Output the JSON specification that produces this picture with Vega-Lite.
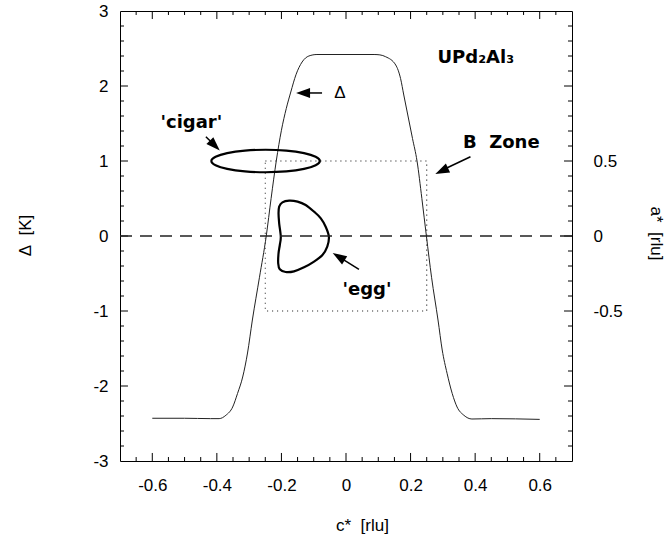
{
  "$schema": "https://vega.github.io/schema/vega-lite/v6.json",
  "width": 452,
  "height": 450,
  "autosize": "none",
  "padding": {"left": 120, "top": 11, "right": 97, "bottom": 83},
  "config": {
    "view": {"stroke": "black", "strokeWidth": 1},
    "axis": {"grid": false, "domain": false, "labelFlush": false, "labelOverlap": false, "labelBound": false,
             "labelFont": "Liberation Sans", "labelFontSize": 17, "labelColor": "black",
             "titleFont": "Liberation Sans", "titleFontSize": 17, "titleFontWeight": "normal", "titleColor": "black"}
  },
  "datasets": {
    "curve": [
      {"x": -0.6, "y": -2.43}, {"x": -0.5, "y": -2.43}, {"x": -0.42, "y": -2.435}, {"x": -0.393, "y": -2.435},
      {"x": -0.372, "y": -2.39}, {"x": -0.351, "y": -2.28}, {"x": -0.336, "y": -2.1}, {"x": -0.32, "y": -1.88},
      {"x": -0.305, "y": -1.56}, {"x": -0.29, "y": -1.12}, {"x": -0.268, "y": -0.55}, {"x": -0.247, "y": 0},
      {"x": -0.232, "y": 0.5}, {"x": -0.216, "y": 1.0}, {"x": -0.2, "y": 1.41}, {"x": -0.185, "y": 1.7},
      {"x": -0.171, "y": 1.92}, {"x": -0.155, "y": 2.15}, {"x": -0.136, "y": 2.32}, {"x": -0.115, "y": 2.4},
      {"x": -0.09, "y": 2.42}, {"x": 0.0, "y": 2.42}, {"x": 0.087, "y": 2.42}, {"x": 0.105, "y": 2.415},
      {"x": 0.123, "y": 2.39}, {"x": 0.154, "y": 2.28}, {"x": 0.169, "y": 2.1}, {"x": 0.179, "y": 1.88},
      {"x": 0.192, "y": 1.6}, {"x": 0.206, "y": 1.3}, {"x": 0.22, "y": 1.0}, {"x": 0.235, "y": 0.5},
      {"x": 0.249, "y": 0}, {"x": 0.265, "y": -0.55}, {"x": 0.285, "y": -1.12}, {"x": 0.298, "y": -1.52},
      {"x": 0.313, "y": -1.83}, {"x": 0.329, "y": -2.1}, {"x": 0.344, "y": -2.28}, {"x": 0.365, "y": -2.39},
      {"x": 0.39, "y": -2.44}, {"x": 0.45, "y": -2.435}, {"x": 0.6, "y": -2.445}
    ],
    "zero": [{"y": 0}],
    "box": [{"x": -0.25, "x2": 0.25, "y": -1, "y2": 1}],
    "xmajor": [{"v": -0.6}, {"v": -0.4}, {"v": -0.2}, {"v": 0}, {"v": 0.2}, {"v": 0.4}, {"v": 0.6}],
    "xminor": [{"v": -0.65}, {"v": -0.55}, {"v": -0.5}, {"v": -0.45}, {"v": -0.35}, {"v": -0.3}, {"v": -0.25}, {"v": -0.15}, {"v": -0.1}, {"v": -0.05},
               {"v": 0.05}, {"v": 0.1}, {"v": 0.15}, {"v": 0.25}, {"v": 0.3}, {"v": 0.35}, {"v": 0.45}, {"v": 0.5}, {"v": 0.55}, {"v": 0.65}],
    "ymajor": [{"v": -2}, {"v": -1}, {"v": 0}, {"v": 1}, {"v": 2}],
    "yminor": [{"v": -2.8}, {"v": -2.6}, {"v": -2.4}, {"v": -2.2}, {"v": -1.8}, {"v": -1.6}, {"v": -1.4}, {"v": -1.2}, {"v": -0.8}, {"v": -0.6}, {"v": -0.4}, {"v": -0.2},
               {"v": 0.2}, {"v": 0.4}, {"v": 0.6}, {"v": 0.8}, {"v": 1.2}, {"v": 1.4}, {"v": 1.6}, {"v": 1.8}, {"v": 2.2}, {"v": 2.4}, {"v": 2.6}, {"v": 2.8}],
    "cigar": [
      {"o": 0, "x": -0.081, "y": 1.0}, {"o": 1, "x": -0.094, "y": 1.057}, {"o": 2, "x": -0.13, "y": 1.106},
      {"o": 3, "x": -0.185, "y": 1.139}, {"o": 4, "x": -0.249, "y": 1.15}, {"o": 5, "x": -0.313, "y": 1.139},
      {"o": 6, "x": -0.368, "y": 1.106}, {"o": 7, "x": -0.404, "y": 1.057}, {"o": 8, "x": -0.417, "y": 1.0},
      {"o": 9, "x": -0.404, "y": 0.943}, {"o": 10, "x": -0.368, "y": 0.894}, {"o": 11, "x": -0.313, "y": 0.861},
      {"o": 12, "x": -0.249, "y": 0.85}, {"o": 13, "x": -0.185, "y": 0.861}, {"o": 14, "x": -0.13, "y": 0.894},
      {"o": 15, "x": -0.094, "y": 0.943}
    ],
    "egg": [
      {"o": 1, "x": -0.202, "y": -0.009}, {"o": 2, "x": -0.207, "y": 0.169}, {"o": 3, "x": -0.209, "y": 0.302},
      {"o": 4, "x": -0.207, "y": 0.391}, {"o": 5, "x": -0.197, "y": 0.449}, {"o": 6, "x": -0.176, "y": 0.471},
      {"o": 7, "x": -0.15, "y": 0.458}, {"o": 8, "x": -0.125, "y": 0.413}, {"o": 9, "x": -0.099, "y": 0.324},
      {"o": 10, "x": -0.078, "y": 0.236}, {"o": 11, "x": -0.063, "y": 0.124}, {"o": 12, "x": -0.053, "y": -0.009},
      {"o": 13, "x": -0.058, "y": -0.142}, {"o": 14, "x": -0.073, "y": -0.253}, {"o": 15, "x": -0.099, "y": -0.342},
      {"o": 16, "x": -0.13, "y": -0.418}, {"o": 17, "x": -0.161, "y": -0.471}, {"o": 18, "x": -0.187, "y": -0.48},
      {"o": 19, "x": -0.205, "y": -0.444}, {"o": 20, "x": -0.21, "y": -0.364}, {"o": 21, "x": -0.209, "y": -0.231},
      {"o": 22, "x": -0.205, "y": -0.12}
    ],
    "arrows": [
      {"x": -0.434, "y": 1.324, "x2": -0.4078, "y2": 1.2125},
      {"x": -0.0742, "y": 1.907, "x2": -0.136, "y2": 1.907},
      {"x": 0.3855, "y": 1.057, "x2": 0.294, "y2": 0.8705},
      {"x": 0.0402, "y": -0.444, "x2": -0.0244, "y2": -0.2727}
    ],
    "heads": [
      {"x": -0.4063, "y": 1.206, "angle": 135},
      {"x": -0.1329, "y": 1.907, "angle": 270},
      {"x": 0.2963, "y": 0.867, "angle": 244.6},
      {"x": -0.0227, "y": -0.2755, "angle": 301.6}
    ],
    "labels": [
      {"x": -0.479, "y": 1.513, "text": "'cigar'"},
      {"x": 0.481, "y": 1.241, "text": "B\u00a0 Zone"},
      {"x": 0.402, "y": 2.373, "text": "UPd₂Al₃"},
      {"x": 0.065, "y": -0.72, "text": "'egg'"}
    ],
    "delta": [{"x": -0.019, "y": 1.907, "text": "Δ"}]
  },
  "resolve": {"axis": {"x": "independent", "y": "independent"}},
  "layer": [
    {
      "data": {"name": "curve"},
      "mark": {"type": "line", "stroke": "#222", "strokeWidth": 1, "interpolate": "monotone"},
      "encoding": {
        "x": {"field": "x", "type": "quantitative", "scale": {"domain": [-0.7, 0.7], "nice": false, "zero": false},
              "axis": {"orient": "bottom", "values": [-0.6, -0.4, -0.2, 0, 0.2, 0.4, 0.6], "ticks": false,
                       "labelExpr": "'' + datum.value", "labelPadding": 16,
                       "title": "c*\u00a0 [rlu]", "titleX": 242, "titleY": 64, "titleBaseline": "middle", "titleAlign": "center"}},
        "y": {"field": "y", "type": "quantitative", "scale": {"domain": [-3, 3], "nice": false, "zero": false},
              "axis": {"orient": "left", "values": [-3, -2, -1, 0, 1, 2, 3], "ticks": false,
                       "labelExpr": "'' + datum.value", "labelPadding": 12,
                       "title": "Δ\u00a0 [K]", "titleX": -95, "titleY": 224, "titleAngle": -90, "titleBaseline": "middle", "titleAlign": "center"}}
      }
    },
    {
      "data": {"name": "box"},
      "mark": {"type": "rect", "filled": false, "stroke": "#333", "strokeWidth": 1.1, "strokeDash": [1.2, 3.8]},
      "encoding": {
        "x": {"field": "x", "type": "quantitative", "scale": {"domain": [-0.7, 0.7], "nice": false, "zero": false}, "axis": null},
        "x2": {"field": "x2"},
        "y": {"field": "y", "type": "quantitative", "scale": {"domain": [-3, 3], "nice": false, "zero": false}, "axis": null},
        "y2": {"field": "y2"}
      }
    },
    {
      "data": {"name": "cigar"},
      "mark": {"type": "line", "stroke": "black", "strokeWidth": 2.2, "interpolate": "cardinal-closed"},
      "encoding": {
        "x": {"field": "x", "type": "quantitative", "scale": {"domain": [-0.7, 0.7], "nice": false, "zero": false}, "axis": null},
        "y": {"field": "y", "type": "quantitative", "scale": {"domain": [-3, 3], "nice": false, "zero": false},
              "axis": {"orient": "right", "values": [-1, 0, 1], "ticks": false, "labelExpr": "'' + (datum.value / 2)", "labelPadding": 21,
                       "title": "a*\u00a0 [rlu]", "titleX": 83, "titleY": 222, "titleAngle": 90, "titleBaseline": "middle", "titleAlign": "center"}},
        "order": {"field": "o", "type": "quantitative"}
      }
    },
    {
      "data": {"name": "egg"},
      "mark": {"type": "line", "stroke": "black", "strokeWidth": 2.2, "interpolate": "cardinal-closed"},
      "encoding": {
        "x": {"field": "x", "type": "quantitative", "scale": {"domain": [-0.7, 0.7], "nice": false, "zero": false}, "axis": null},
        "y": {"field": "y", "type": "quantitative", "scale": {"domain": [-3, 3], "nice": false, "zero": false}, "axis": null},
        "order": {"field": "o", "type": "quantitative"}
      }
    },
    {
      "data": {"name": "xmajor"},
      "mark": {"type": "rule", "stroke": "black", "strokeWidth": 1},
      "encoding": {
        "x": {"field": "v", "type": "quantitative", "scale": {"domain": [-0.7, 0.7], "nice": false, "zero": false}, "axis": null},
        "y": {"datum": -3, "type": "quantitative", "scale": {"domain": [-3, 3], "nice": false, "zero": false}, "axis": null},
        "y2": {"datum": -2.893}
      }
    },
    {
      "data": {"name": "xmajor"},
      "mark": {"type": "rule", "stroke": "black", "strokeWidth": 1},
      "encoding": {
        "x": {"field": "v", "type": "quantitative", "scale": {"domain": [-0.7, 0.7], "nice": false, "zero": false}, "axis": null},
        "y": {"datum": 3, "type": "quantitative", "scale": {"domain": [-3, 3], "nice": false, "zero": false}, "axis": null},
        "y2": {"datum": 2.893}
      }
    },
    {
      "data": {"name": "xminor"},
      "mark": {"type": "rule", "stroke": "black", "strokeWidth": 1},
      "encoding": {
        "x": {"field": "v", "type": "quantitative", "scale": {"domain": [-0.7, 0.7], "nice": false, "zero": false}, "axis": null},
        "y": {"datum": -3, "type": "quantitative", "scale": {"domain": [-3, 3], "nice": false, "zero": false}, "axis": null},
        "y2": {"datum": -2.947}
      }
    },
    {
      "data": {"name": "xminor"},
      "mark": {"type": "rule", "stroke": "black", "strokeWidth": 1},
      "encoding": {
        "x": {"field": "v", "type": "quantitative", "scale": {"domain": [-0.7, 0.7], "nice": false, "zero": false}, "axis": null},
        "y": {"datum": 3, "type": "quantitative", "scale": {"domain": [-3, 3], "nice": false, "zero": false}, "axis": null},
        "y2": {"datum": 2.947}
      }
    },
    {
      "data": {"name": "ymajor"},
      "mark": {"type": "rule", "stroke": "black", "strokeWidth": 1},
      "encoding": {
        "y": {"field": "v", "type": "quantitative", "scale": {"domain": [-3, 3], "nice": false, "zero": false}, "axis": null},
        "x": {"datum": -0.7, "type": "quantitative", "scale": {"domain": [-0.7, 0.7], "nice": false, "zero": false}, "axis": null},
        "x2": {"datum": -0.6753}
      }
    },
    {
      "data": {"name": "ymajor"},
      "mark": {"type": "rule", "stroke": "black", "strokeWidth": 1},
      "encoding": {
        "y": {"field": "v", "type": "quantitative", "scale": {"domain": [-3, 3], "nice": false, "zero": false}, "axis": null},
        "x": {"datum": 0.7, "type": "quantitative", "scale": {"domain": [-0.7, 0.7], "nice": false, "zero": false}, "axis": null},
        "x2": {"datum": 0.6753}
      }
    },
    {
      "data": {"name": "yminor"},
      "mark": {"type": "rule", "stroke": "black", "strokeWidth": 1},
      "encoding": {
        "y": {"field": "v", "type": "quantitative", "scale": {"domain": [-3, 3], "nice": false, "zero": false}, "axis": null},
        "x": {"datum": -0.7, "type": "quantitative", "scale": {"domain": [-0.7, 0.7], "nice": false, "zero": false}, "axis": null},
        "x2": {"datum": -0.6876}
      }
    },
    {
      "data": {"name": "yminor"},
      "mark": {"type": "rule", "stroke": "black", "strokeWidth": 1},
      "encoding": {
        "y": {"field": "v", "type": "quantitative", "scale": {"domain": [-3, 3], "nice": false, "zero": false}, "axis": null},
        "x": {"datum": 0.7, "type": "quantitative", "scale": {"domain": [-0.7, 0.7], "nice": false, "zero": false}, "axis": null},
        "x2": {"datum": 0.6876}
      }
    },
    {
      "data": {"name": "arrows"},
      "mark": {"type": "rule", "stroke": "black", "strokeWidth": 1.5},
      "encoding": {
        "x": {"field": "x", "type": "quantitative", "scale": {"domain": [-0.7, 0.7], "nice": false, "zero": false}, "axis": null},
        "x2": {"field": "x2"},
        "y": {"field": "y", "type": "quantitative", "scale": {"domain": [-3, 3], "nice": false, "zero": false}, "axis": null},
        "y2": {"field": "y2"}
      }
    },
    {
      "data": {"name": "heads"},
      "mark": {"type": "point", "shape": "M0,-1L0.7,1L-0.7,1Z", "filled": true, "fill": "black", "opacity": 1, "size": 196, "strokeWidth": 0},
      "encoding": {
        "x": {"field": "x", "type": "quantitative", "scale": {"domain": [-0.7, 0.7], "nice": false, "zero": false}, "axis": null},
        "y": {"field": "y", "type": "quantitative", "scale": {"domain": [-3, 3], "nice": false, "zero": false}, "axis": null},
        "angle": {"field": "angle", "type": "quantitative", "scale": null}
      }
    },
    {
      "data": {"name": "zero"},
      "mark": {"type": "rule", "stroke": "#222", "strokeWidth": 1.3, "strokeDash": [12, 8]},
      "encoding": {
        "y": {"field": "y", "type": "quantitative", "scale": {"domain": [-3, 3], "nice": false, "zero": false}, "axis": null}
      }
    },
    {
      "data": {"name": "labels"},
      "mark": {"type": "text", "font": "DejaVu Sans", "fontWeight": "bold", "fontSize": 18, "align": "center", "baseline": "middle", "color": "black"},
      "encoding": {
        "x": {"field": "x", "type": "quantitative", "scale": {"domain": [-0.7, 0.7], "nice": false, "zero": false}, "axis": null},
        "y": {"field": "y", "type": "quantitative", "scale": {"domain": [-3, 3], "nice": false, "zero": false}, "axis": null},
        "text": {"field": "text"}
      }
    },
    {
      "data": {"name": "delta"},
      "mark": {"type": "text", "font": "Liberation Sans", "fontSize": 17, "align": "center", "baseline": "middle", "color": "black"},
      "encoding": {
        "x": {"field": "x", "type": "quantitative", "scale": {"domain": [-0.7, 0.7], "nice": false, "zero": false}, "axis": null},
        "y": {"field": "y", "type": "quantitative", "scale": {"domain": [-3, 3], "nice": false, "zero": false}, "axis": null},
        "text": {"field": "text"}
      }
    }
  ]
}
